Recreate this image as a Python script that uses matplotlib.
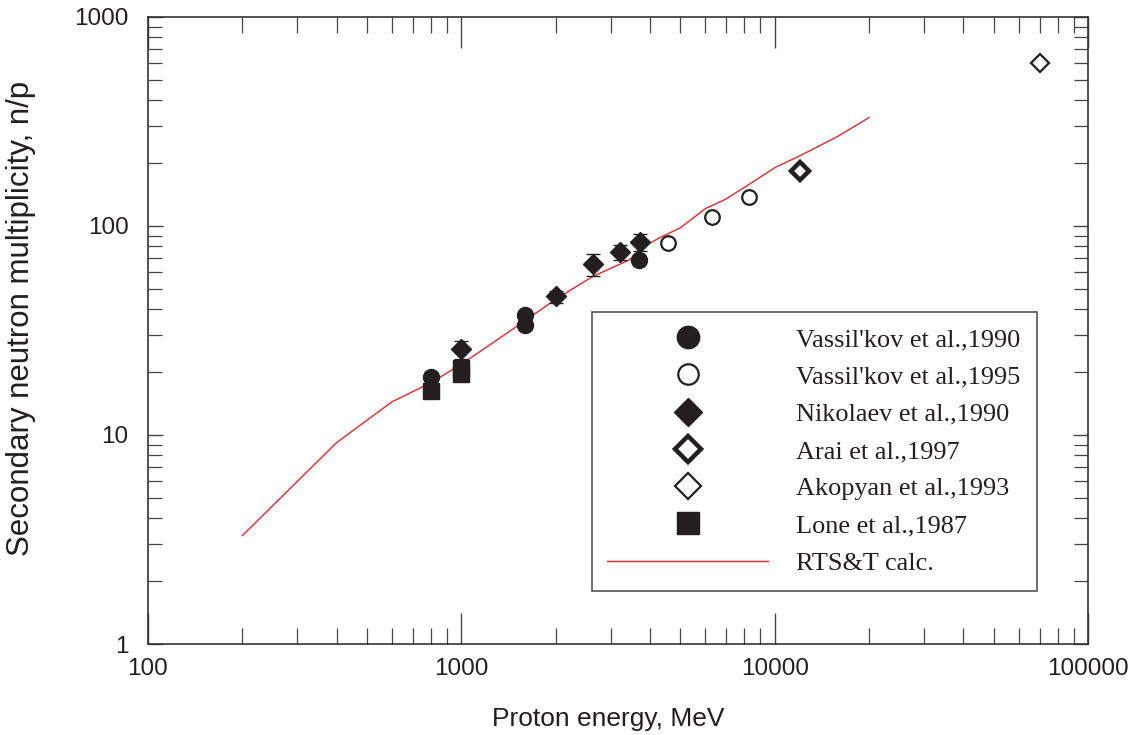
import matplotlib
matplotlib.use("Agg")
from matplotlib import pyplot as plt
from matplotlib.ticker import LogLocator, NullFormatter, FixedLocator, FixedFormatter

# Vassil'kov et al., 1990 (filled circles)
vas90_e = [800, 1600, 1600, 3700]
vas90_n = [19, 37.5, 33.5, 69]

# Vassil'kov et al., 1995 (open circles)
vas95_e = [4560, 6320, 8280]
vas95_n = [83, 110, 137]

# Nikolaev et al., 1990 (filled diamonds, with error bars)
nik_e = [1000, 2000, 2630, 3220, 3720]
nik_n = [25.7, 46, 65.5, 75, 84]
nik_err = [2.5, 3, 8, 6, 8]

# Arai et al., 1997
arai_e = [12000]
arai_n = [184]

# Akopyan et al., 1993
akop_e = [70000]
akop_n = [600]

# Lone et al., 1987 (filled squares)
lone_e = [800, 1000, 1000]
lone_n = [16.2, 19.5, 21]

# RTS&T calculation
calc_e = [200, 400, 600, 800, 1000, 1570, 2000, 2630, 3450, 3720, 4300, 5000,
          6000, 6950, 8170, 10000, 12200, 15800, 20000]
calc_n = [3.3, 9.2, 14.4, 17.8, 21.8, 34.6, 44.6, 57.4, 69, 78, 88, 98,
          121, 134, 156, 190, 219, 267, 330]

x_ticks = [100, 1000, 10000, 100000]
y_ticks = [1, 10, 100, 1000]

SANS = "Liberation Sans"
SERIF = "Liberation Serif"
DARK = "#231f20"

fig = plt.figure(figsize=(11.41, 7.35), dpi=100)
ax = fig.add_axes([0.1297, 0.1238, 0.8239, 0.8531])

ax.plot(calc_e, calc_n, color="#e8262c", lw=1.0, label="RTS&T calc.", zorder=2)

ax.plot(vas90_e, vas90_n, "o", ms=11.5, color=DARK, label="Vassil'kov et al.,1990", zorder=3)
ax.plot(vas95_e, vas95_n, "o", ms=10.5, mfc="white", mec=DARK, mew=1.6,
        label="Vassil'kov et al.,1995", zorder=3)
ax.errorbar(nik_e, nik_n, yerr=nik_err, fmt="none", ecolor=DARK,
            elinewidth=1.0, capsize=5, capthick=1.0, zorder=4)
ax.plot(nik_e, nik_n, "D", ms=10, color=DARK, label="Nikolaev et al.,1990", zorder=4)
ax.plot(arai_e, arai_n, "D", ms=9.5, mfc="white", mec=DARK, mew=3.2,
        label="Arai et al.,1997", zorder=3)
ax.plot(akop_e, akop_n, "D", ms=9.5, mfc="white", mec=DARK, mew=1.6,
        label="Akopyan et al.,1993", zorder=3)
ax.plot(lone_e, lone_n, "s", ms=11, color=DARK, label="Lone et al.,1987", zorder=3)

ax.set_xscale("log")
ax.set_yscale("log")
ax.set_xlim(100, 100000)
ax.set_ylim(1, 1000)

ax.xaxis.set_major_locator(FixedLocator(x_ticks))
ax.xaxis.set_major_formatter(FixedFormatter([str(v) for v in x_ticks]))
ax.yaxis.set_major_locator(FixedLocator(y_ticks))
ax.yaxis.set_major_formatter(FixedFormatter([str(v) for v in y_ticks]))
ax.xaxis.set_minor_locator(LogLocator(base=10, subs=range(2, 10)))
ax.yaxis.set_minor_locator(LogLocator(base=10, subs=range(2, 10)))
ax.xaxis.set_minor_formatter(NullFormatter())
ax.yaxis.set_minor_formatter(NullFormatter())

ax.tick_params(axis="both", which="both", direction="in", top=True, right=True,
               colors="#444444", labelcolor=DARK)
ax.tick_params(axis="x", which="major", length=22, width=1.0, pad=10, labelsize=17.5)
ax.tick_params(axis="x", which="minor", length=11.5, width=0.9)
ax.tick_params(axis="y", which="major", length=11, width=1.0, pad=14, labelsize=17.5)
ax.tick_params(axis="y", which="minor", length=10, width=0.9)
for lab in ax.get_xticklabels() + ax.get_yticklabels():
    lab.set_fontfamily(SANS)

for sp in ax.spines.values():
    sp.set_color("#333333")
    sp.set_linewidth(1.2)

ax.set_xlabel("Proton energy, MeV", fontsize=19, family=SANS, color=DARK)
ax.set_ylabel("Secondary neutron multiplicity, n/p", fontsize=22.5, family=SANS,
              color=DARK)
ax.xaxis.set_label_coords(0.490, -0.100)
ax.yaxis.set_label_coords(-0.119, 0.52)

handles, labels = ax.get_legend_handles_labels()
order = [1, 2, 3, 4, 5, 6, 0]
leg = ax.legend([handles[i] for i in order], [labels[i] for i in order],
                loc="upper left", bbox_to_anchor=(0.472, 0.5295, 0.474, 0.0),
                mode="expand", prop={"family": SERIF, "size": 18.9}, markerscale=1.4,
                handlelength=6.1, handletextpad=1.1, labelspacing=0.53,
                borderpad=0.6, fancybox=False, framealpha=1, numpoints=1,
                borderaxespad=0)
leg.get_frame().set_edgecolor("#555555")
leg.get_frame().set_linewidth(1.2)
for t in leg.get_texts():
    t.set_color(DARK)

fig.savefig("out.png", dpi=100)
